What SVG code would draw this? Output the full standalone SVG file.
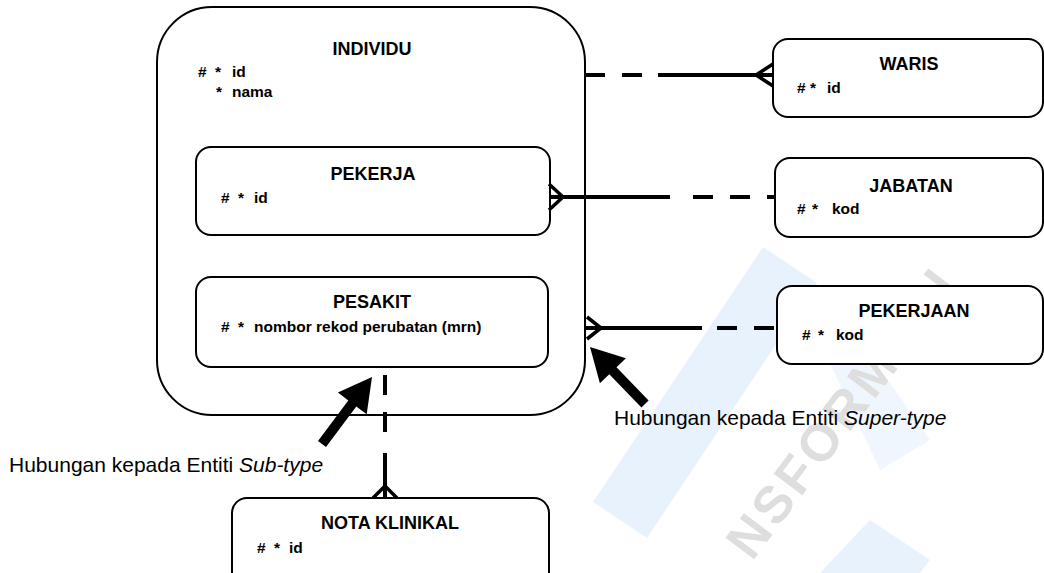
<svg xmlns="http://www.w3.org/2000/svg" width="1044" height="573" viewBox="0 0 1044 573">
<style>
.box{fill:#fff;stroke:#000;stroke-width:2}
.wm{fill:#e8f2fc}
.hd{font-family:"Liberation Sans",Arial,sans-serif;font-weight:bold;font-size:18px;fill:#000;text-anchor:middle}
.at{font-family:"Liberation Sans",Arial,sans-serif;font-weight:bold;font-size:15.5px;fill:#000}
.lb{font-family:"Liberation Sans",Arial,sans-serif;font-size:21px;fill:#000}
.ln{stroke:#000;stroke-width:4;fill:none}
.ds{stroke:#000;stroke-width:4;fill:none;stroke-dasharray:20 17}
.cf{stroke:#000;stroke-width:3.5;fill:none;stroke-linejoin:miter}
</style>
<rect width="1044" height="573" fill="#fff"/>
<g id="watermark">
<path class="wm" d="M 763 247 L 817 283 L 647 538 L 593 502 Z"/>
<path class="wm" d="M 800 300 L 860 340 L 930 440 L 880 470 Z" opacity="0.7"/>
<path class="wm" d="M 820 573 L 870 520 L 930 560 L 920 573 Z"/>
<text x="752" y="562" transform="rotate(-53 752 562)" font-family="Liberation Sans,Arial,sans-serif" font-weight="bold" font-size="52" letter-spacing="4" fill="#dedede">NSFORMASI</text>
</g>
<g id="individu">
<rect class="box" x="157" y="7" width="428" height="408" rx="55" ry="55"/>
<text class="hd" x="372" y="55">INDIVIDU</text>
<text class="at" y="77"><tspan x="198">#</tspan><tspan x="215">*</tspan><tspan x="232">id</tspan></text>
<text class="at" y="97"><tspan x="216">*</tspan><tspan x="232">nama</tspan></text>
</g>
<g id="pekerja">
<rect class="box" x="196" y="147" width="354" height="88" rx="15" ry="15"/>
<text class="hd" x="373" y="180">PEKERJA</text>
<text class="at" y="203"><tspan x="221">#</tspan><tspan x="238">*</tspan><tspan x="254">id</tspan></text>
</g>
<g id="pesakit">
<rect class="box" x="196" y="277" width="352" height="90" rx="15" ry="15"/>
<text class="hd" x="372" y="308">PESAKIT</text>
<text class="at" y="332"><tspan x="221">#</tspan><tspan x="238">*</tspan><tspan x="254">nombor rekod perubatan (mrn)</tspan></text>
</g>
<g id="waris">
<rect class="box" x="773" y="39" width="270" height="78" rx="15" ry="15"/>
<text class="hd" x="909" y="70">WARIS</text>
<text class="at" y="93"><tspan x="797">#</tspan><tspan x="810">*</tspan><tspan x="827">id</tspan></text>
</g>
<g id="jabatan">
<rect class="box" x="775" y="158" width="268" height="79" rx="15" ry="15"/>
<text class="hd" x="911" y="192">JABATAN</text>
<text class="at" y="214"><tspan x="797">#</tspan><tspan x="812">*</tspan><tspan x="832">kod</tspan></text>
</g>
<g id="pekerjaan">
<rect class="box" x="777" y="286" width="266" height="78" rx="15" ry="15"/>
<text class="hd" x="914" y="317">PEKERJAAN</text>
<text class="at" y="340"><tspan x="802">#</tspan><tspan x="818">*</tspan><tspan x="836">kod</tspan></text>
</g>
<g id="nota-klinikal">
<rect class="box" x="232" y="498" width="317" height="90" rx="15" ry="15"/>
<text class="hd" x="390" y="529">NOTA KLINIKAL</text>
<text class="at" y="553"><tspan x="257">#</tspan><tspan x="274">*</tspan><tspan x="289">id</tspan></text>
</g>
<g id="connectors">
<line class="ds" x1="585" y1="75" x2="658" y2="75" stroke-dasharray="18 17"/>
<line class="ln" x1="658" y1="75" x2="773" y2="75"/>
<polyline class="cf" points="773,64 756,75 773,86"/>
<line class="ln" x1="550" y1="197" x2="670" y2="197"/>
<line class="ds" x1="693" y1="197" x2="775" y2="197" stroke-dasharray="22 17"/>
<polyline class="cf" points="549,184 563,197 549,210"/>
<line class="ln" x1="585" y1="328" x2="702" y2="328"/>
<line class="ds" x1="717" y1="328" x2="777" y2="328" stroke-dasharray="21 16"/>
<polyline class="cf" points="587,317 601,328 587,339"/>
<line class="ds" x1="385" y1="375" x2="385" y2="436" stroke-dasharray="20 20"/>
<line class="ln" x1="385" y1="453" x2="385" y2="498"/>
<polyline class="cf" points="373,498 385,486 397,498"/>
</g>
<g id="annotations">
<polygon fill="#000" points="372,377 366.7,414.2 356.3,406.4 326,447 318,441 348.3,400.4 337.9,392.6"/>
<polygon fill="#000" points="590,347 625.9,358.3 616.5,367.3 648.6,400.5 641.4,407.5 609.3,374.3 599.9,383.3"/>
<text class="lb" x="9" y="472">Hubungan kepada Entiti <tspan font-style="italic">Sub-type</tspan></text>
<text class="lb" x="614" y="425">Hubungan kepada Entiti <tspan font-style="italic">Super-type</tspan></text>
</g>
</svg>
